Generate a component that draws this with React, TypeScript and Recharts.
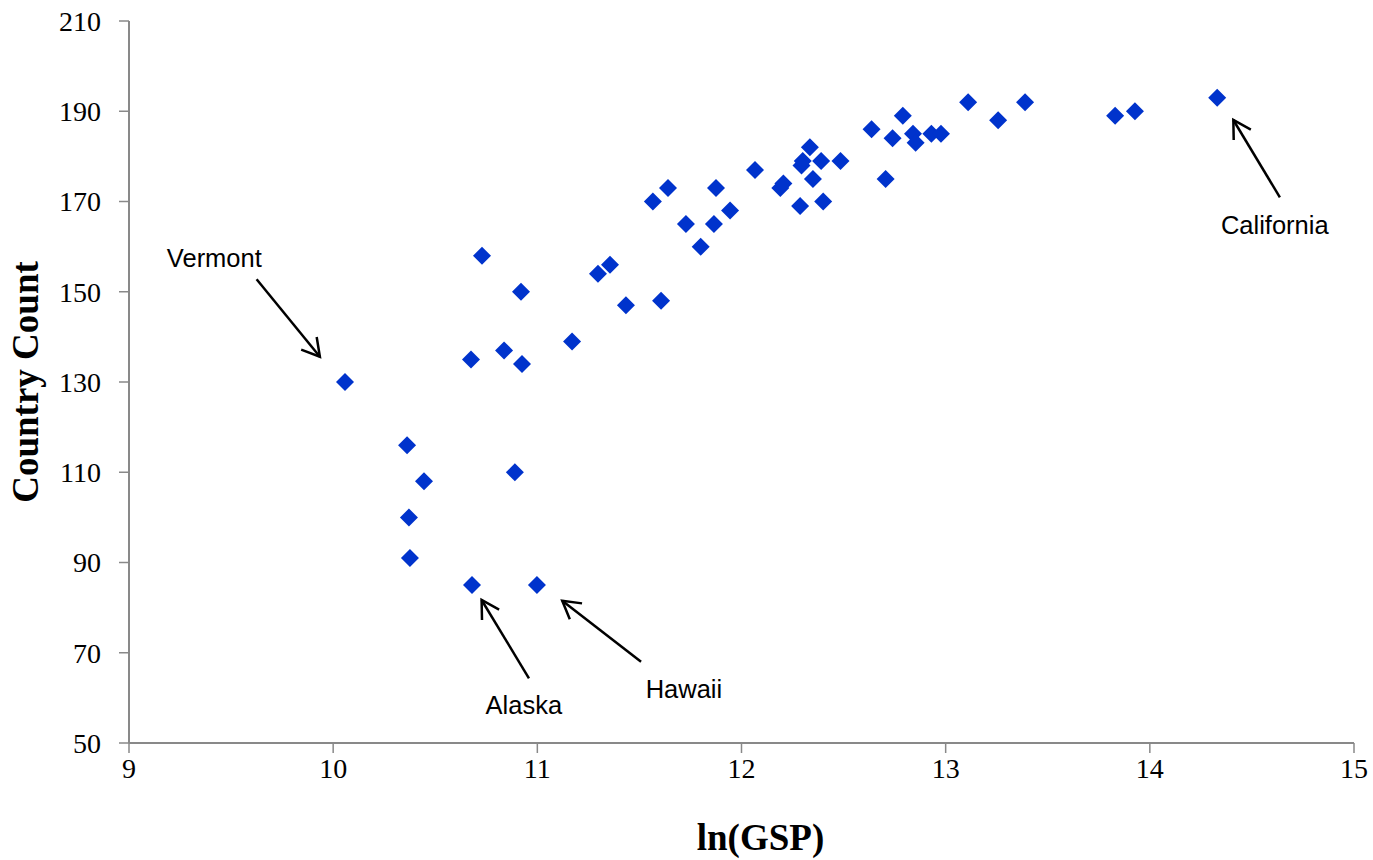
import React from 'react';
import { ScatterChart, Scatter, XAxis, YAxis, ReferenceLine, ReferenceDot, Label } from 'recharts';

// ln(GSP) per state
const lnGSP = [10.058, 10.362, 10.445, 10.371, 10.376, 10.68, 10.998, 10.89, 10.675, 10.837,
  10.925, 10.92, 10.729, 11.17, 11.297, 11.356, 11.434, 11.606, 11.566, 11.64,
  11.728, 11.80, 11.865, 11.875, 11.944, 12.066, 12.19, 12.205, 12.287, 12.294,
  12.30, 12.335, 12.35, 12.39, 12.40, 12.485, 12.637, 12.706, 12.74, 12.79,
  12.84, 12.853, 12.93, 12.977, 13.11, 13.257, 13.389, 13.83, 13.927, 14.33];
// Country count per state
const countryCount = [130, 116, 108, 100, 91, 85, 85, 110, 135, 137,
  134, 150, 158, 139, 154, 156, 147, 148, 170, 173,
  165, 160, 165, 173, 168, 177, 173, 174, 169, 178,
  179, 182, 175, 179, 170, 179, 186, 175, 184, 189,
  185, 183, 185, 185, 192, 188, 192, 189, 190, 193];

const xTicks = [9, 10, 11, 12, 13, 14, 15];
const yTicks = [50, 70, 90, 110, 130, 150, 170, 190, 210];

// annotations (data units)
const annoNames = ['Vermont', 'Alaska', 'Hawaii', 'California'];
const annoTextX = [9.418, 10.934, 11.718, 14.612];
const annoTextY = [155.5, 56.36, 59.9, 162.73];
const arrowTailX = [9.625, 10.959, 11.508, 14.637];
const arrowTailY = [152.76, 64.34, 68.02, 170.93];
const arrowTipX = [9.935, 10.727, 11.122, 14.409];
const arrowTipY = [135.6, 81.69, 81.54, 188.06];

const data = lnGSP.map((x, i) => ({ x, y: countryCount[i] }));

const AXIS = '#898989';
const MARK = '#0033CC';
const SERIF = '"Liberation Serif", "Times New Roman", serif';
const SANS = '"Liberation Sans", Arial, sans-serif';

const Diamond = (props: any) => {
  const { cx, cy } = props;
  const r = 9;
  return <path d={`M${cx},${cy - r}L${cx + r},${cy}L${cx},${cy + r}L${cx - r},${cy}Z`} fill={MARK} />;
};

const Arrow = (props: any) => {
  const { x1, y1, x2, y2 } = props;
  const ang = Math.atan2(y1 - y2, x1 - x2);
  const L = 20;
  const a1 = ang + Math.PI / 6;
  const a2 = ang - Math.PI / 6;
  return (
    <g>
      <line x1={x1} y1={y1} x2={x2} y2={y2} stroke="#000" strokeWidth={2.5} />
      <polyline
        points={`${x2 + L * Math.cos(a1)},${y2 + L * Math.sin(a1)} ${x2},${y2} ${x2 + L * Math.cos(a2)},${y2 + L * Math.sin(a2)}`}
        fill="none" stroke="#000" strokeWidth={2.5} />
    </g>
  );
};

const makeText = (name: string) => (props: any) => (
  <text x={props.cx} y={props.cy} textAnchor="middle" fontFamily={SANS} fontSize={25.5} fill="#000">{name}</text>
);

export default function App() {
  return (
    <div style={{ position: 'absolute', left: 0, top: 0, width: 1373, height: 860, background: '#fff' }}>
      <ScatterChart width={1373} height={860} margin={{ top: 21, right: 19, bottom: 0, left: 0 }}>
        <XAxis
          type="number" dataKey="x" domain={[9, 15]} ticks={xTicks} interval={0}
          stroke={AXIS} strokeWidth={2} tickSize={10} tickMargin={5} height={117}
          tick={{ fill: '#000', fontFamily: SERIF, fontSize: 28 }}
          tickLine={{ stroke: AXIS, strokeWidth: 1.5 }}
        >
          <Label content={(p: any) => {
            const vb = p.viewBox;
            return <text x={vb.x + vb.width / 2 + 19} y={vb.y + 107} textAnchor="middle" fontFamily={SERIF}
              fontWeight="bold" fontSize={37} fill="#000">ln(GSP)</text>;
          }} />
        </XAxis>
        <YAxis
          type="number" dataKey="y" domain={[50, 210]} ticks={yTicks} interval={0}
          stroke={AXIS} strokeWidth={2} tickSize={10} tickMargin={18} width={129}
          tick={{ fill: '#000', fontFamily: SERIF, fontSize: 28 }}
          tickLine={{ stroke: AXIS, strokeWidth: 1.5 }}
        >
          <Label content={(p: any) => {
            const vb = p.viewBox;
            const cx = vb.x + 25;
            const cy = vb.y + vb.height / 2;
            return <text x={cx} y={cy} transform={`rotate(-90, ${cx}, ${cy})`} textAnchor="middle"
              dominantBaseline="central" fontFamily={SERIF} fontWeight="bold" fontSize={37} fill="#000">Country Count</text>;
          }} />
        </YAxis>
        <Scatter data={data} shape={Diamond} isAnimationActive={false} />
        {annoNames.map((n, i) => (
          <ReferenceLine key={'a' + n} ifOverflow="visible"
            segment={[{ x: arrowTailX[i], y: arrowTailY[i] }, { x: arrowTipX[i], y: arrowTipY[i] }]}
            shape={Arrow} />
        ))}
        {annoNames.map((n, i) => (
          <ReferenceDot key={'t' + n} x={annoTextX[i]} y={annoTextY[i]} ifOverflow="visible" shape={makeText(n)} />
        ))}
      </ScatterChart>
    </div>
  );
}
